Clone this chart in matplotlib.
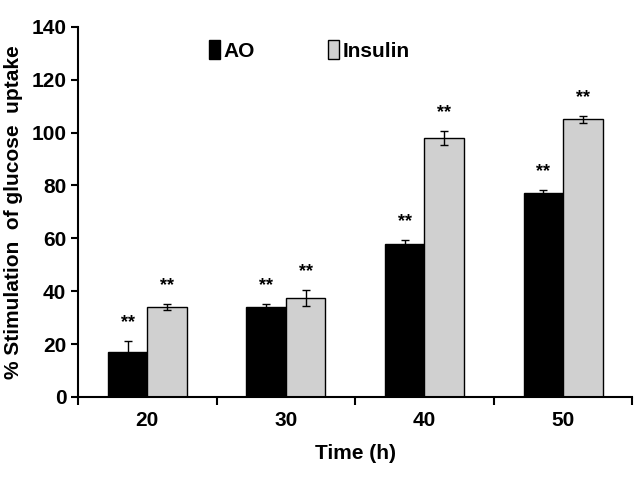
import numpy as np
import matplotlib.pyplot as plt

times = ['20', '30', '40', '50']
ao = [17, 34, 58, 77]
ao_err = [4, 1.2, 1.5, 1.2]
insulin = [34, 37.5, 98, 105]
insulin_err = [1.2, 3, 2.5, 1.3]

font = 'Liberation Sans'

fig = plt.figure(figsize=(6.4, 4.8), dpi=100)
ax = fig.add_axes([0.122, 0.173, 0.866, 0.771])

x = np.arange(len(times))
w = 0.285
ax.bar(x - w/2, ao, w, color='black', edgecolor='black', linewidth=1,
       yerr=ao_err, capsize=3, error_kw=dict(elinewidth=1, capthick=1), label='AO')
ax.bar(x + w/2, insulin, w, color='#d0d0d0', edgecolor='black', linewidth=1,
       yerr=insulin_err, capsize=3, error_kw=dict(elinewidth=1, capthick=1), label='Insulin')

# significance marks
for xi, v, e in zip(x - w/2, ao, ao_err):
    ax.text(xi, v + e + 7, '**', ha='center', va='center', fontsize=13, fontweight='bold', family=font)
for xi, v, e in zip(x + w/2, insulin, insulin_err):
    ax.text(xi, v + e + 7, '**', ha='center', va='center', fontsize=13, fontweight='bold', family=font)

ax.set_xlim(-0.5, 3.5)
ax.set_ylim(0, 140)
ax.set_yticks(range(0, 141, 20))
ax.set_xticks(x)
ax.set_xticklabels(times)
ax.set_xticks(np.arange(-0.5, 4, 1), minor=True)
ax.tick_params(axis='x', which='major', length=0, pad=10)
ax.tick_params(axis='x', which='minor', length=6, width=1.5, direction='out')
ax.tick_params(axis='y', length=5, width=1.5, direction='out')
for lab in ax.get_xticklabels() + ax.get_yticklabels():
    lab.set_family(font)
    lab.set_fontweight('bold')
    lab.set_fontsize(15)

ax.spines['top'].set_visible(False)
ax.spines['right'].set_visible(False)
ax.spines['left'].set_linewidth(1.5)
ax.spines['bottom'].set_linewidth(1.5)

ax.set_xlabel('Time (h)', fontsize=15, fontweight='bold', family=font, labelpad=10)
ax.set_ylabel('% Stimulation  of glucose  uptake', fontsize=15, fontweight='bold', family=font, labelpad=6)

ax.legend(loc='upper left', bbox_to_anchor=(0.203, 1.015), ncol=2, frameon=False,
          handlelength=0.5, handleheight=1.0, handletextpad=0.2, columnspacing=3.5,
          prop={'family': font, 'weight': 'bold', 'size': 15})

fig.savefig('out.png', dpi=100)
